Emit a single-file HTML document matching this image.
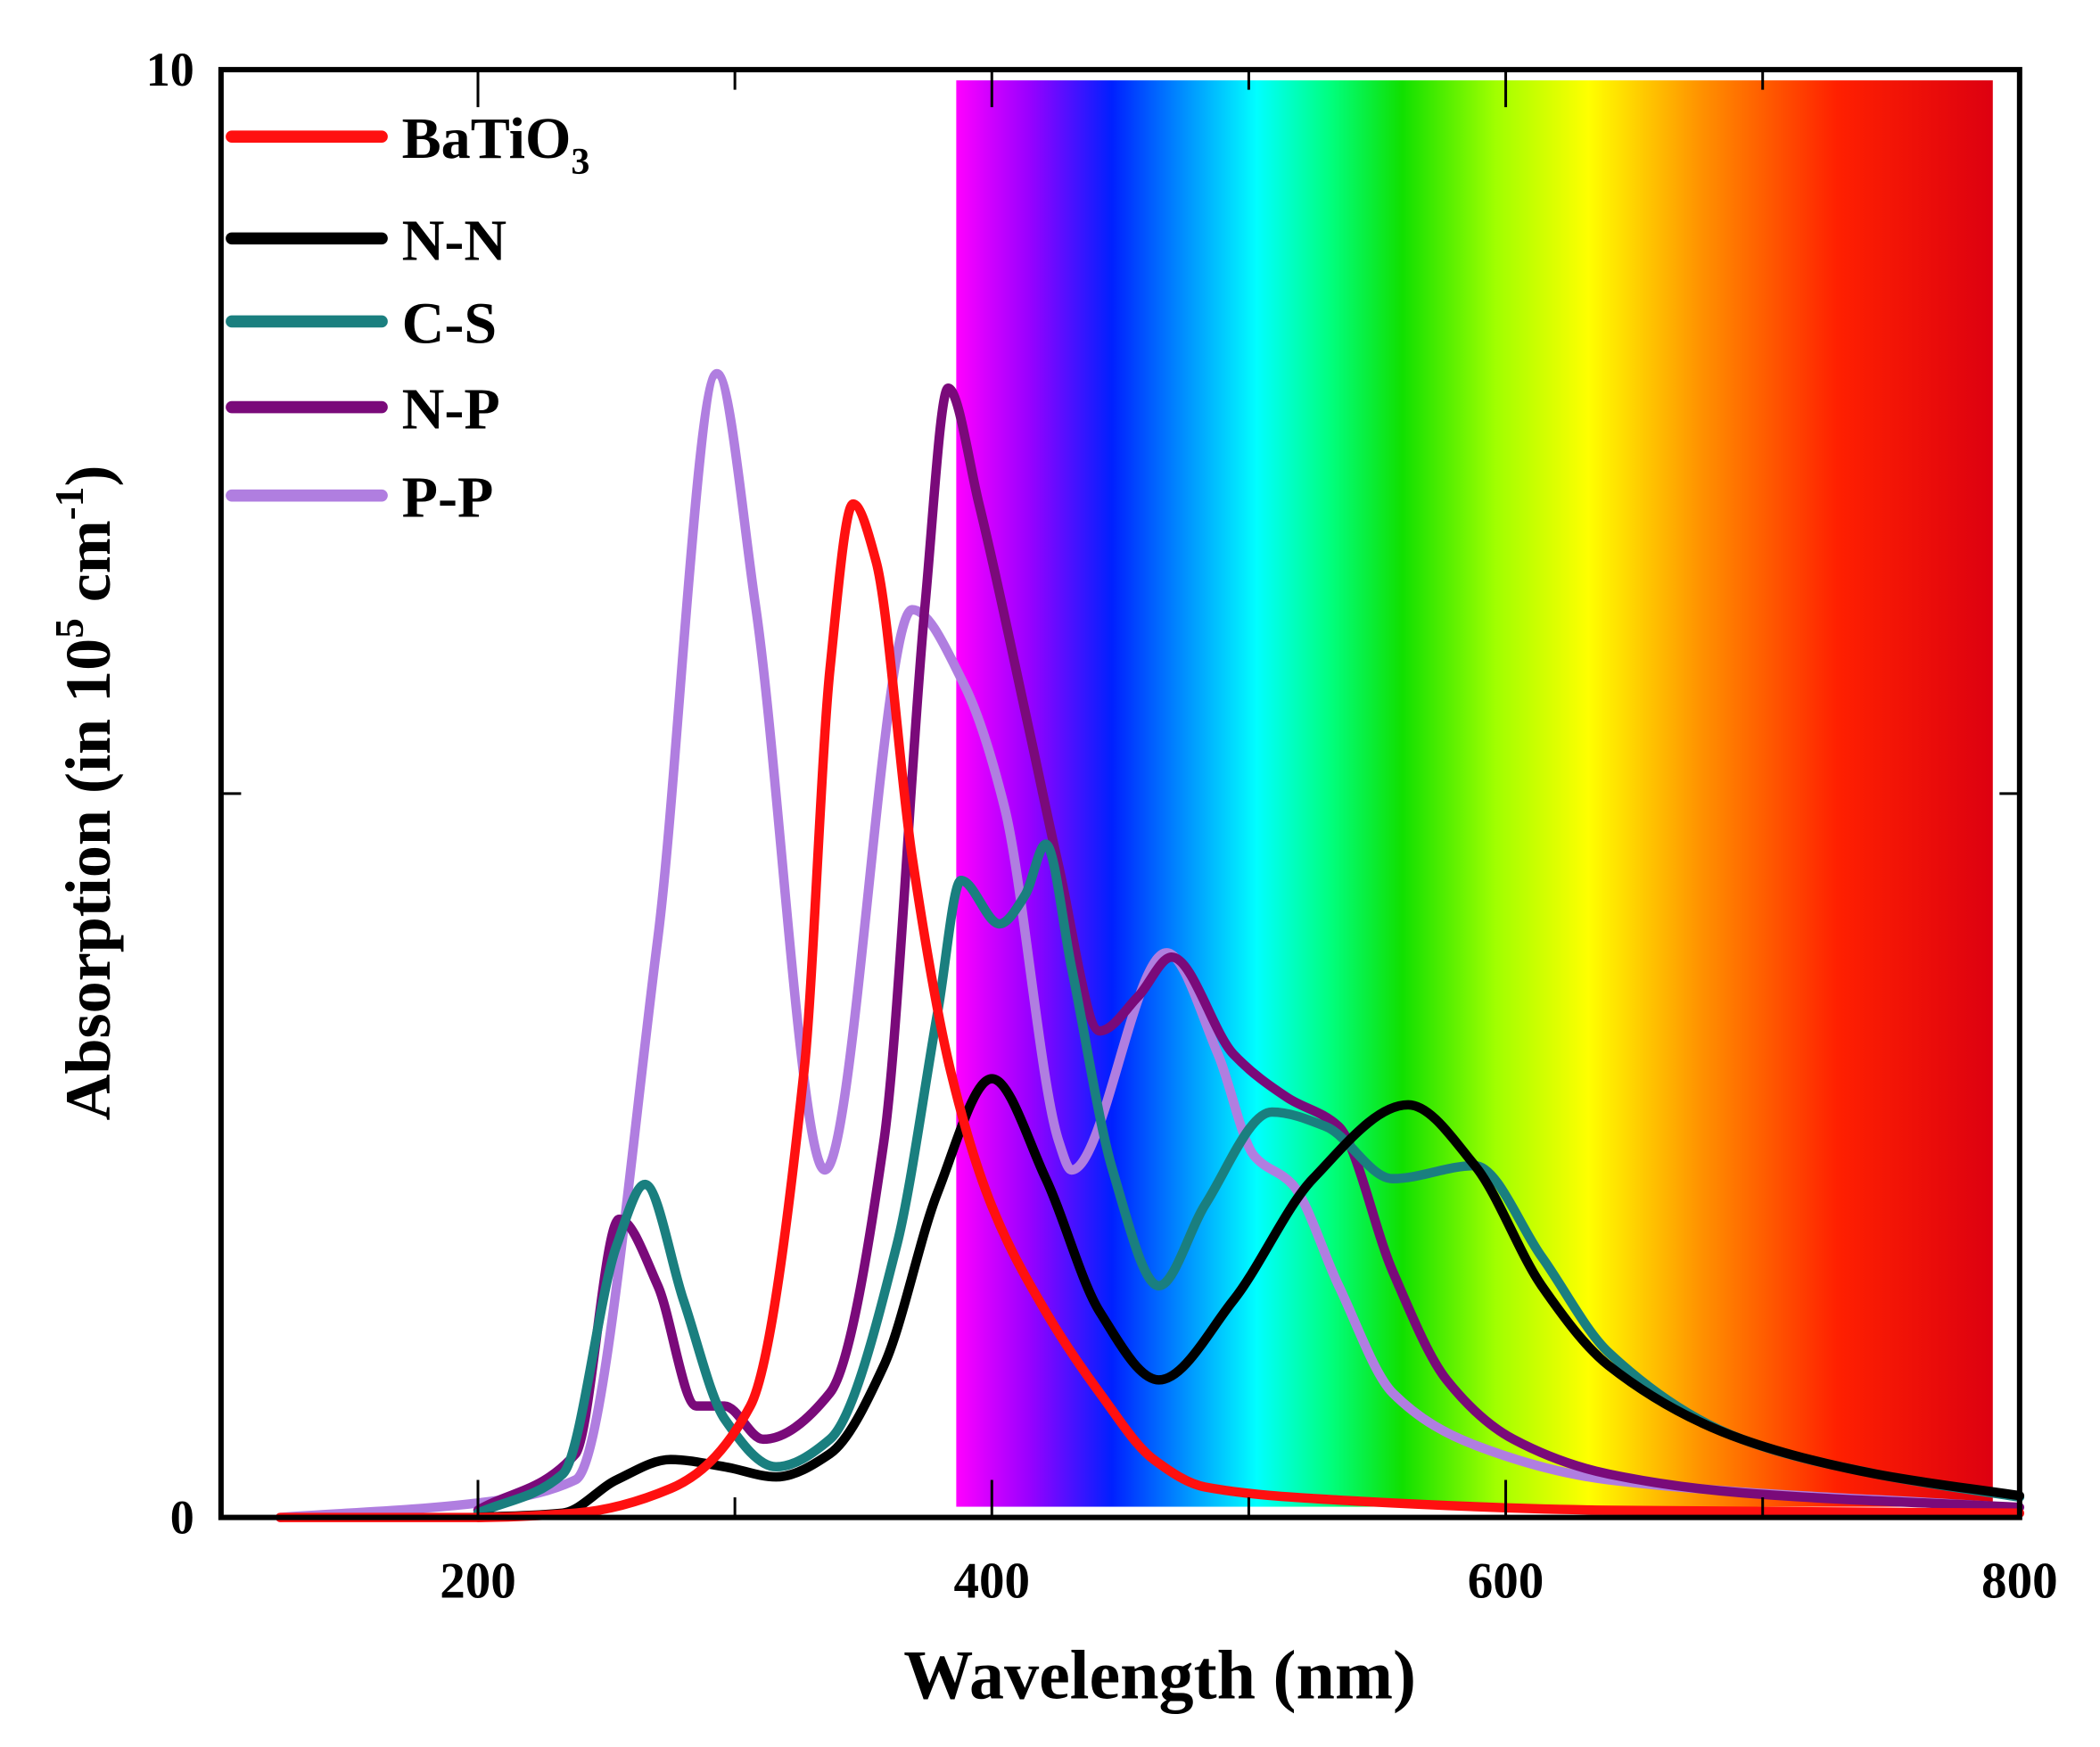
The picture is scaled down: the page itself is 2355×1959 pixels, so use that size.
<!DOCTYPE html>
<html><head><meta charset="utf-8"><style>
html,body{margin:0;padding:0;background:#fff}
svg{display:block}
text{font-family:"Liberation Serif",serif;font-weight:bold;fill:#000}
</style></head><body>
<svg id="chart" width="2355" height="1959" viewBox="0 0 1568 1304.4" xmlns="http://www.w3.org/2000/svg">
<defs>
<linearGradient id="spec" x1="0" x2="1" y1="0" y2="0">
<stop offset="0" stop-color="#ff00ff"/>
<stop offset="0.07" stop-color="#9a00ff"/>
<stop offset="0.15" stop-color="#0020ff"/>
<stop offset="0.22" stop-color="#0090ff"/>
<stop offset="0.29" stop-color="#00ffff"/>
<stop offset="0.36" stop-color="#00ff80"/>
<stop offset="0.43" stop-color="#10e000"/>
<stop offset="0.52" stop-color="#a0ff00"/>
<stop offset="0.61" stop-color="#ffff00"/>
<stop offset="0.72" stop-color="#ff9000"/>
<stop offset="0.85" stop-color="#ff2000"/>
<stop offset="1" stop-color="#dd0010"/>
</linearGradient>
</defs>
<rect x="714" y="60" width="774" height="1065" fill="url(#spec)"/>
<g id="series"></g>
<rect x="165" y="52" width="1343" height="1081" fill="none" stroke="#000" stroke-width="4"/>
<g id="ticks"></g>
<text x="866" y="1268" font-size="52" text-anchor="middle">Wavelength (nm)</text>
<text transform="translate(82,592) rotate(-90)" font-size="48" text-anchor="middle">Absorption (in 10<tspan font-size="30" dy="-20">5</tspan><tspan dy="20"> cm</tspan><tspan font-size="30" dy="-20">-1</tspan><tspan dy="20">)</tspan></text>
<g id="legend"></g>
</svg>
<script>
const seriesNames=["BaTiO3","N-N","C-S","N-P","P-P"];
const seriesColors=["#ff1010","#000000","#1a7f7f","#7a0a7a","#b07ee0"];
const xTickValues=[200,400,600,800];
const xMinorTicks=[300,500,700];
const yTickValues=[0,5,10];
const yTickLabels=["0","","10"];
const batioX=[123,200,238,275,306,327,337,346,355,369,384,400,421,442,463,483,535,640,800];
const batioY=[0,0,0.03,0.2,0.77,3.1,5.86,7.0,6.6,4.56,3.08,2.15,1.42,0.86,0.4,0.21,0.12,0.05,0.03];
const nnX=[200,233,254,275,296,316,337,358,379,400,421,442,465,494,525,562,588,614,640,692,744,800];
const nnY=[0,0.03,0.26,0.4,0.35,0.28,0.44,1.05,2.25,3.03,2.34,1.42,0.95,1.5,2.34,2.85,2.43,1.6,1.05,0.54,0.3,0.15];
const csX=[200,233,254,265,280,296,316,337,363,379,388,403,413,421,431,447,465,483,509,530,556,588,614,640,692,744,800];
const csY=[0.03,0.3,1.88,2.3,1.5,0.68,0.35,0.54,1.88,3.5,4.4,4.1,4.3,4.65,3.8,2.4,1.6,2.16,2.8,2.7,2.34,2.43,1.8,1.14,0.54,0.3,0.14];
const npX=[200,238,255,270,285,296,311,337,358,374,383,395,415,426,442,457,470,494,515,535,556,577,603,640,692,800];
const npY=[0.05,0.44,2.06,1.6,0.77,0.77,0.54,0.86,2.6,6.3,7.8,7.0,5.4,4.5,3.36,3.6,3.87,3.2,2.9,2.7,1.7,0.95,0.54,0.3,0.17,0.07];
const ppX=[123,200,238,270,293,308,335,369,389,405,426,431,468,488,502,517,535,556,588,640,796];
const ppY=[0,0.1,0.26,4.0,7.9,6.3,2.4,6.27,5.76,4.9,2.6,2.4,3.9,3.2,2.5,2.3,1.6,0.86,0.5,0.26,0.07];
const seriesX=[batioX,nnX,csX,npX,ppX];
const seriesY=[batioY,nnY,csY,npY,ppY];
const L=165,R=1508,T=52,B=1133,XMIN=100,XMAX=800,YMIN=0,YMAX=10;
function sx(v){return L+(v-XMIN)/(XMAX-XMIN)*(R-L);}
function sy(v){return B-(v-YMIN)/(YMAX-YMIN)*(B-T);}
const NS="http://www.w3.org/2000/svg";
function smooth(xs,ys){
  const n=xs.length;
  const px=xs.map(sx), py=ys.map(sy);
  const d=[],m=new Array(n).fill(0);
  for(let i=0;i<n-1;i++)d.push((py[i+1]-py[i])/(px[i+1]-px[i]));
  m[0]=d[0];m[n-1]=d[n-2];
  for(let i=1;i<n-1;i++){
    if(d[i-1]*d[i]<=0)m[i]=0;
    else{const w1=2*(px[i+1]-px[i])+(px[i]-px[i-1]),w2=(px[i+1]-px[i])+2*(px[i]-px[i-1]);
      m[i]=(w1+w2)/(w1/d[i-1]+w2/d[i]);}
  }
  let s="M"+px[0]+","+py[0];
  for(let i=0;i<n-1;i++){
    const h=(px[i+1]-px[i])/3;
    s+=" C"+(px[i]+h)+","+(py[i]+m[i]*h)+" "+(px[i+1]-h)+","+(py[i+1]-m[i+1]*h)+" "+px[i+1]+","+py[i+1];
  }
  return s;
}
const sg=document.getElementById("series");
const order=[4,3,2,1,0];
order.forEach(i=>{
  const path=document.createElementNS(NS,"path");
  path.setAttribute("d",smooth(seriesX[i],seriesY[i]));
  path.setAttribute("fill","none");
  path.setAttribute("stroke",seriesColors[i]);
  path.setAttribute("stroke-width","7");
  path.setAttribute("stroke-linejoin","round");
  path.setAttribute("stroke-linecap","round");
  
  
  sg.appendChild(path);
});
const tg=document.getElementById("ticks");
function line(x1,y1,x2,y2,name){
  const l=document.createElementNS(NS,"line");
  l.setAttribute("x1",x1);l.setAttribute("y1",y1);l.setAttribute("x2",x2);l.setAttribute("y2",y2);
  l.setAttribute("stroke","#000");l.setAttribute("stroke-width","2");
  
  
  tg.appendChild(l);
}
function txt(x,y,s,size,anchor,name,g){
  const t=document.createElementNS(NS,"text");
  t.setAttribute("x",x);t.setAttribute("y",y);t.setAttribute("font-size",size);t.setAttribute("text-anchor",anchor);
  t.textContent=s;
  
  
  (g||tg).appendChild(t);
}
xTickValues.forEach(v=>{
  line(sx(v),B,sx(v),B-28,"x-major-tick");
  line(sx(v),T,sx(v),T+28,"x-major-tick-top");
  txt(sx(v),B+60,String(v),38,"middle","x-tick-label");
});
xMinorTicks.forEach(v=>{
  line(sx(v),B,sx(v),B-15,"x-minor-tick");
  line(sx(v),T,sx(v),T+15,"x-minor-tick-top");
});
yTickValues.forEach((v,i)=>{
  line(L,sy(v),L+15,sy(v),"y-tick");
  line(R,sy(v),R-15,sy(v),"y-tick-right");
  if(yTickLabels[i])txt(L-20,sy(v)+12,yTickLabels[i],36,"end","y-tick-label");
});
const lg=document.getElementById("legend");
const legY=[102,178,240,304,370];
seriesNames.forEach((n,i)=>{
  const l=document.createElementNS(NS,"line");
  l.setAttribute("x1",173);l.setAttribute("x2",285);l.setAttribute("y1",legY[i]);l.setAttribute("y2",legY[i]);
  l.setAttribute("stroke",seriesColors[i]);l.setAttribute("stroke-width","9");l.setAttribute("stroke-linecap","round");
  
  
  lg.appendChild(l);
  const t=document.createElementNS(NS,"text");
  t.setAttribute("x",300);t.setAttribute("y",legY[i]+16);t.setAttribute("font-size","44");
  if(n==="BaTiO3"){t.innerHTML='BaTiO<tspan font-size="28" dy="12">3</tspan>';}else{t.textContent=n;}
  
  
  lg.appendChild(t);
});
</script>
</body></html>
